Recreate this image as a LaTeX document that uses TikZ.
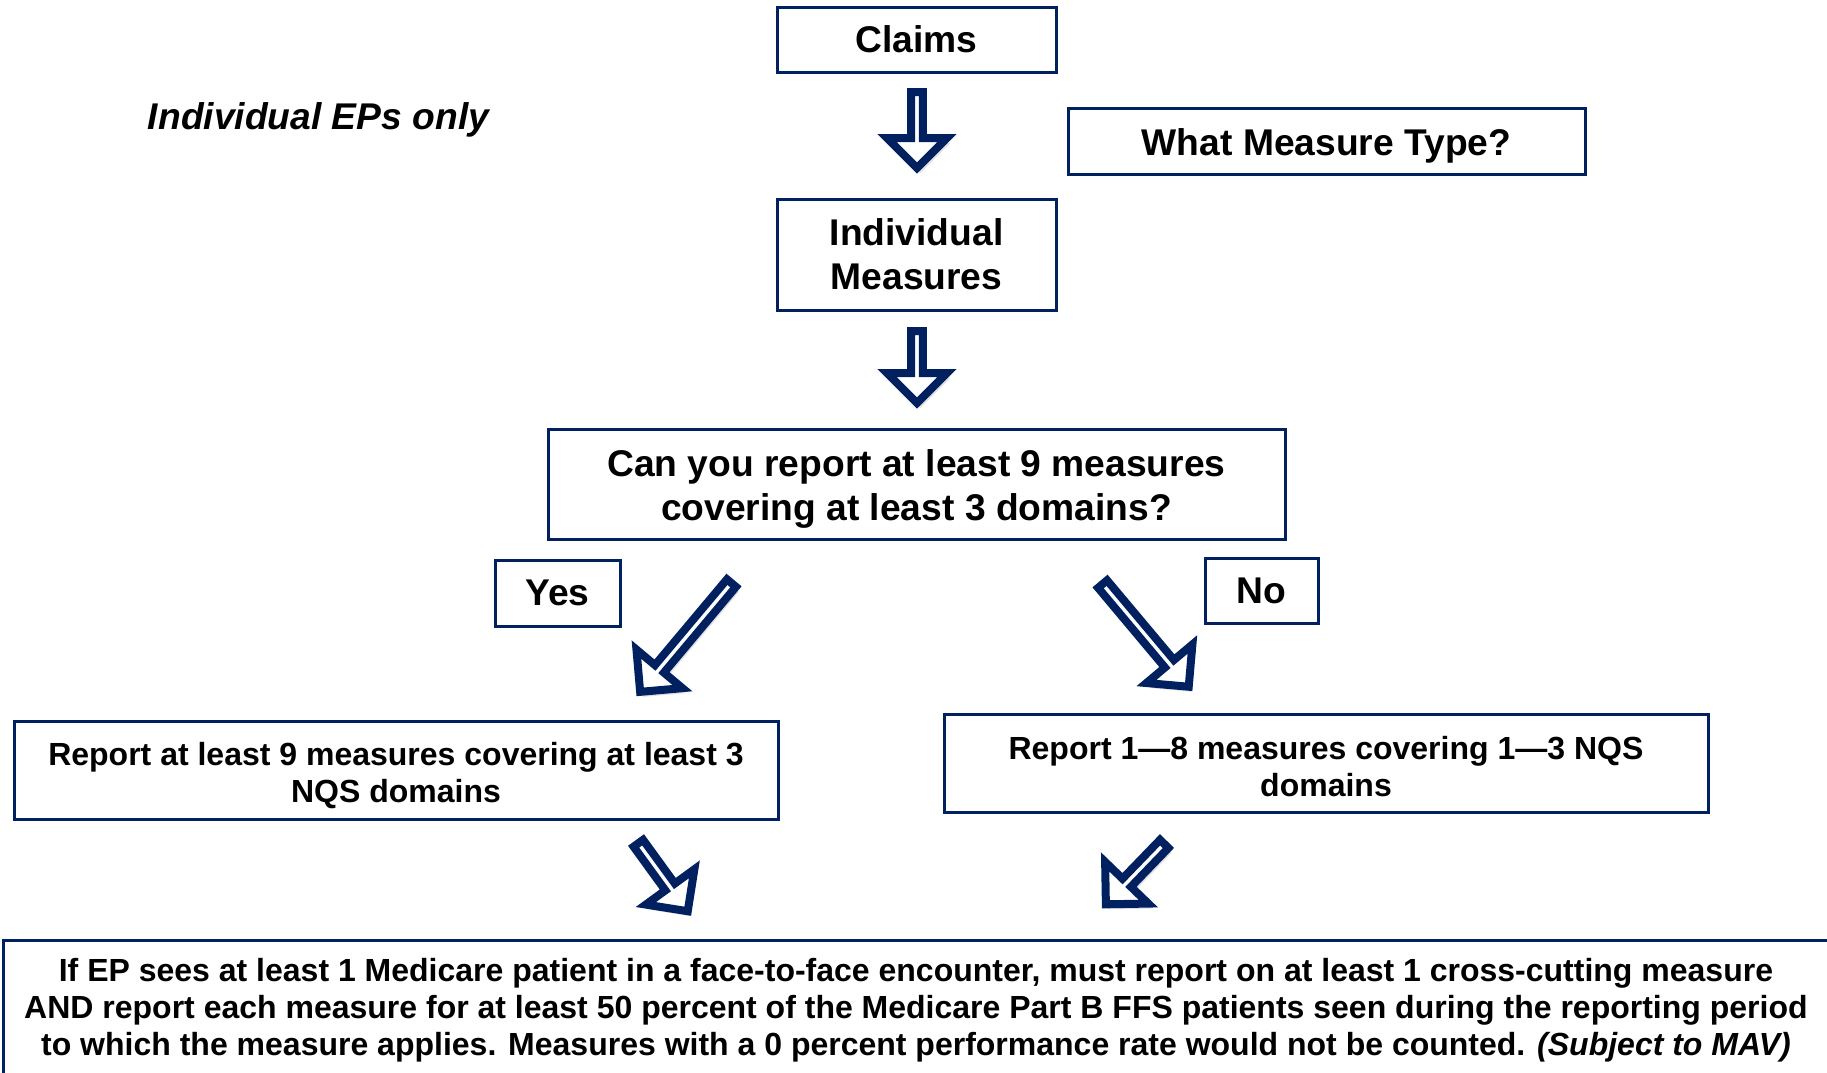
\documentclass[tikz,border=0pt]{standalone}
\usepackage{fontspec}
\setmainfont{Liberation Sans}
\usetikzlibrary{shapes.arrows,shadows}
\definecolor{navy}{RGB}{0,32,96}
\newcommand{\dn}[1]{\rule{0pt}{#1}}
\tikzset{
  box/.style={draw=navy, line width=3pt, fill=white, inner sep=0pt, align=center,
    font=\bfseries\fontsize{37.2}{44}\selectfont},
  smallbox/.style={box, font=\bfseries\fontsize{32}{37}\selectfont},
  blockarrow/.style={single arrow, draw=navy, line width=8pt, fill=white, inner sep=0pt,
    minimum width=60pt, single arrow head extend=16.5pt, anchor=tail,
    drop shadow={opacity=0.25, shadow xshift=3pt, shadow yshift=-5pt}},
}
\begin{document}
\begin{tikzpicture}[x=1pt,y=-1pt]
\clip (0,0) rectangle (1827,1072);
\fill[white] (0,0) rectangle (1827,1072);
% boxes
\node[box, minimum width=279pt, minimum height=65pt] (claims) at (916.5,39.5) {Claims};
\node[box, minimum width=517pt, minimum height=66pt] (mtype) at (1326.5,141) {\dn{37pt}What Measure Type?};
\node[box, minimum width=279pt, minimum height=111pt] (indiv) at (916.5,254.5) {Individual\\Measures};
\node[box, minimum width=737pt, minimum height=110pt] (canyou) at (916.5,484) {\dn{37pt}Can you report at least 9 measures\\covering at least 3 domains?};
\node[box, minimum width=125pt, minimum height=66pt] (yes) at (557.5,593) {Yes};
\node[box, minimum width=113pt, minimum height=65pt] (no) at (1261.5,590.5) {No};
\node[smallbox, minimum width=764pt, minimum height=98pt] (repyes) at (396,770) {\dn{34pt}Report at least 9 measures covering at least 3\\NQS domains};
\node[smallbox, minimum width=764pt, minimum height=98pt] (repno) at (1326,763) {\dn{30pt}Report 1—8 measures covering 1—3 NQS\\domains};
\node[smallbox, minimum width=1826pt, minimum height=140pt] (final) at (916,1010) {If EP sees at least 1 Medicare patient in a face-to-face encounter, must report on at least 1 cross-cutting measure\\AND report each measure for at least 50 percent of the Medicare Part B FFS patients seen during the reporting period\\to which the measure applies. Measures with a 0 percent performance rate would not be counted. \textit{(Subject to MAV)}};
\node[font=\bfseries\itshape\fontsize{37.2}{44}\selectfont] (eponly) at (318.5,120) {Individual EPs only};
% block arrows
\node[blockarrow, rotate=-90, minimum height=76pt] (arrclaims) at (917,88) {};
\node[blockarrow, rotate=-90, minimum height=72pt] (arrindiv) at (917,327) {};
\node[blockarrow, rotate=-130, minimum height=142pt] (arryes) at (734,580) {};
\node[blockarrow, rotate=-50, minimum height=134pt] (arrno) at (1100,581) {};
\node[blockarrow, rotate=-54, minimum height=84pt] (arrrepyes) at (636,840) {};
\node[blockarrow, rotate=-134, minimum height=84pt] (arrrepno) at (1167,841) {};
\end{tikzpicture}
\end{document}
